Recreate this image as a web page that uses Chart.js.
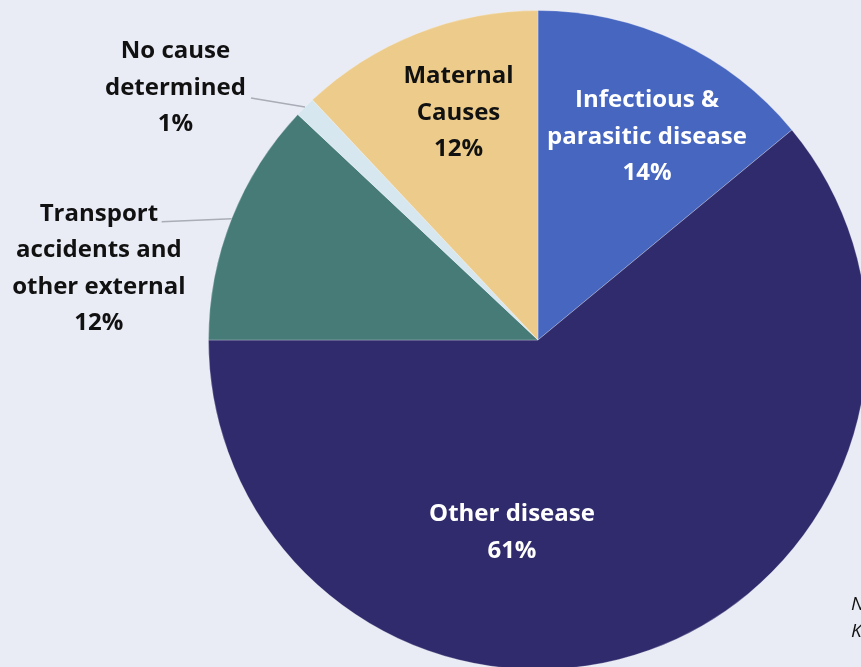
<!DOCTYPE html>
<html>
<head>
<meta charset="utf-8">
<script src="https://cdn.jsdelivr.net/npm/chart.js@4.4.1/dist/chart.umd.min.js"></script>
<style>
  html, body { margin: 0; padding: 0; background: #e9ebf5; overflow: hidden; }
  #wrap { position: absolute; left: 0; top: 0; width: 880px; height: 682px; }
</style>
</head>
<body>
<div id="wrap"><canvas id="pie"></canvas></div>
<script>
// Causes of death, share of total (%)
const causes = [
    'Infectious & parasitic disease',
    'Other disease',
    'Transport accidents and other external',
    'No cause determined',
    'Maternal Causes',
];
const shares = [14, 61, 12, 1, 12];

// How each label is broken over lines
const labelLines = [
    ['Infectious &', 'parasitic disease'],
    ['Other disease'],
    ['Transport', 'accidents and', 'other external'],
    ['No cause', 'determined'],
    ['Maternal', 'Causes'],
];

const sliceColors = ['#4766c0', '#302b6c', '#477b78', '#d6e7ef', '#eccb8b'];
const textColors = ['#ffffff', '#ffffff', '#111111', '#111111', '#111111'];

// label block placement: degrees off the slice mid-angle, distance as share of radius
const labelPlace = [
    { turn: 3, dist: 0.70 },
    { turn: 27.5, dist: 0.59 },
    { turn: -12.4, dist: 1.35 },
    { turn: -10.2, dist: 1.34 },
    { turn: 2.3, dist: 0.73 },
];
// leader lines for the outside labels, offset from the rim point
const leaders = [null, null, [-70, 3], [-54, -9], null];

const FONT = 'bold 24px "Open Sans", Lato, sans-serif';
const LINE_H = 36.5;

const pieLabels = {
    id: 'pieLabels',
    afterDatasetsDraw(chart) {
        const { ctx } = chart;
        const arcs = chart.getDatasetMeta(0).data;
        ctx.save();
        arcs.forEach((arc, i) => {
            const { x, y, startAngle, endAngle, outerRadius } =
                arc.getProps(['x', 'y', 'startAngle', 'endAngle', 'outerRadius'], true);
            const mid = (startAngle + endAngle) / 2;

            if (leaders[i]) {
                const ex = x + Math.cos(mid) * outerRadius;
                const ey = y + Math.sin(mid) * outerRadius;
                ctx.strokeStyle = '#a9adb6';
                ctx.lineWidth = 1.5;
                ctx.beginPath();
                ctx.moveTo(ex, ey);
                ctx.lineTo(ex + leaders[i][0], ey + leaders[i][1]);
                ctx.stroke();
            }

            const a = mid + labelPlace[i].turn * Math.PI / 180;
            const r = outerRadius * labelPlace[i].dist;
            const cx = x + Math.cos(a) * r;
            const cy = y + Math.sin(a) * r;
            const lines = [...labelLines[i], shares[i] + '%'];
            const top = cy - (lines.length - 1) * LINE_H / 2;

            ctx.font = FONT;
            ctx.fillStyle = textColors[i];
            ctx.textAlign = 'center';
            ctx.textBaseline = 'middle';
            lines.forEach((t, k) => ctx.fillText(t, cx, top + k * LINE_H));
        });

        // cut-off note in the corner
        ctx.font = 'italic 19px "Open Sans", Lato, sans-serif';
        ctx.fillStyle = '#111111';
        ctx.textAlign = 'left';
        ctx.textBaseline = 'middle';
        ctx.fillText('N', 851, 605);
        ctx.fillText('K', 851, 632);
        ctx.restore();
    },
};

new Chart(document.getElementById('pie'), {
    type: 'pie',
    data: {
        labels: causes,
        datasets: [
            {
                data: shares,
                backgroundColor: sliceColors,
                borderColor: 'rgba(255, 255, 255, 0.25)',
                borderWidth: 1,
            },
        ],
    },
    options: {
        responsive: true,
        maintainAspectRatio: false,
        animation: false,
        layout: { padding: { left: 208, top: 10, right: 12, bottom: 12 } },
        plugins: {
            legend: { display: false },
            tooltip: { enabled: false },
        },
    },
    plugins: [pieLabels],
});
</script>
</body>
</html>
